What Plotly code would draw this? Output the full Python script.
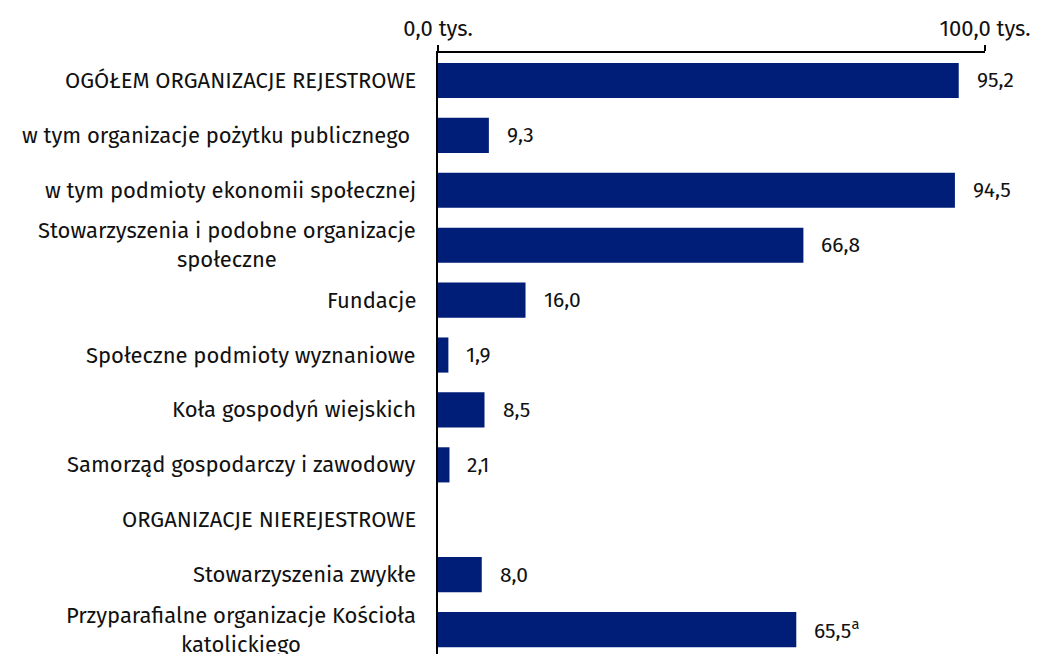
import plotly.graph_objects as go

categories = [
    "OGÓŁEM ORGANIZACJE REJESTROWE",
    "w tym organizacje pożytku publicznego ",
    "w tym podmioty ekonomii społecznej",
    "Stowarzyszenia i podobne organizacje<br>społeczne",
    "Fundacje",
    "Społeczne podmioty wyznaniowe",
    "Koła gospodyń wiejskich",
    "Samorząd gospodarczy i zawodowy",
    "ORGANIZACJE NIEREJESTROWE",
    "Stowarzyszenia zwykłe",
    "Przyparafialne organizacje Kościoła<br>katolickiego",
]
values = [95.2, 9.3, 94.5, 66.8, 16.0, 1.9, 8.5, 2.1, None, 8.0, 65.5]
value_labels = ["95,2", "9,3", "94,5", "66,8", "16,0", "1,9", "8,5", "2,1", "", "8,0", "65,5<sup>a</sup>"]
tick_vals = [0, 100]
tick_text = ["0,0 tys.", "100,0 tys."]

FONT = "Fira Sans, Open Sans, sans-serif"
BAR = "#001D77"
TXT = "#111111"

fig = go.Figure()
fig.add_trace(go.Bar(
    x=values, y=categories, orientation="h",
    marker=dict(color=BAR, line=dict(width=0)),
    hoverinfo="skip",
))

annotations = []
for cat, v, lab in zip(categories, values, value_labels):
    annotations.append(dict(
        x=0, y=cat, xref="x", yref="y", text=cat, showarrow=False,
        xanchor="right", yanchor="middle", align="center", xshift=-20,
        font=dict(family=FONT, size=22, color=TXT),
    ))
    if v is not None:
        annotations.append(dict(
            x=v, y=cat, xref="x", yref="y", text=lab, showarrow=False,
            xanchor="left", yanchor="middle", xshift=16,
            font=dict(family=FONT, size=21, color=TXT),
        ))

fig.update_layout(
    width=1039, height=654,
    margin=dict(l=430, r=62, t=45, b=0, autoexpand=False),
    paper_bgcolor="white", plot_bgcolor="white",
    showlegend=False, bargap=0.36,
    font=dict(family=FONT, size=21, color=TXT),
    annotations=annotations,
    xaxis=dict(
        side="top", range=[0, 100], tickvals=tick_vals, ticktext=tick_text,
        showline=True, linecolor="black", linewidth=1.5,
        ticks="outside", ticklen=6, tickcolor="black", tickwidth=1.5,
        showgrid=False, zeroline=False, fixedrange=True,
        tickfont=dict(family=FONT, size=22, color=TXT),
    ),
    yaxis=dict(
        type="category", categoryorder="array", categoryarray=categories,
        range=[10.59, -0.5], showticklabels=False,
        showline=True, linecolor="black", linewidth=1.5,
        showgrid=False, zeroline=False, ticks="", fixedrange=True,
    ),
)

fig.write_html("out.html")
